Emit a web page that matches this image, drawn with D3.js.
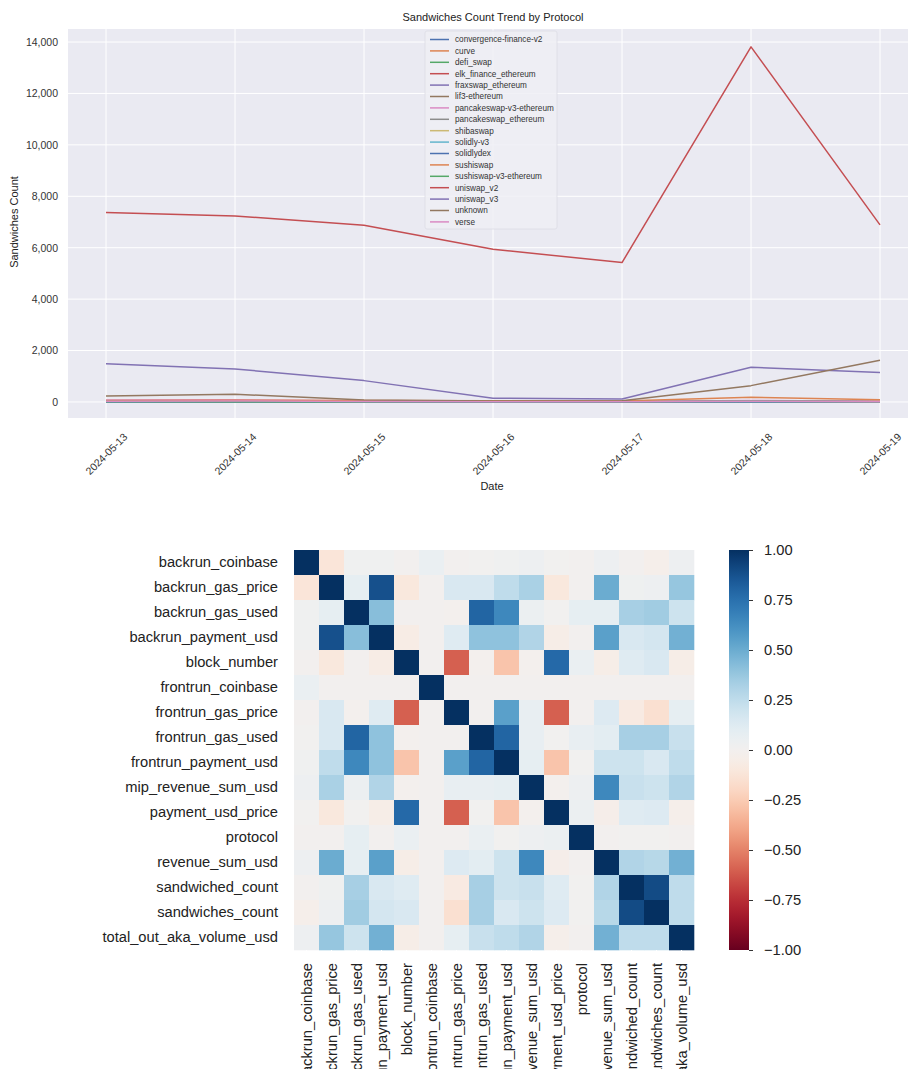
<!DOCTYPE html>
<html>
<head>
<meta charset="utf-8">
<script src="https://cdn.jsdelivr.net/npm/d3@7/dist/d3.min.js"></script>
<style>
body{margin:0;background:#fff;}
svg{display:block;font-family:"Liberation Sans",Arial,sans-serif;}
</style>
</head>
<body>
<svg id="chart" width="910" height="1069"></svg>
<script>
// ---------- Line chart data ----------
const dates = ["2024-05-13","2024-05-14","2024-05-15","2024-05-16","2024-05-17","2024-05-18","2024-05-19"];
const protocols = ["convergence-finance-v2","curve","defi_swap","elk_finance_ethereum","fraxswap_ethereum","lif3-ethereum","pancakeswap-v3-ethereum","pancakeswap_ethereum","shibaswap","solidly-v3","solidlydex","sushiswap","sushiswap-v3-ethereum","uniswap_v2","uniswap_v3","unknown","verse"];
const protocolColors = ["#4c72b0","#dd8452","#55a868","#c44e52","#8172b3","#937860","#da8bc3","#8c8c8c","#ccb974","#64b5cd","#4c72b0","#dd8452","#55a868","#c44e52","#8172b3","#937860","#da8bc3"];
const sandwichCounts = [
  [5, 4, 3, 2, 2, 6, 3],
  [12, 10, 8, 6, 5, 20, 10],
  [3, 2, 2, 1, 1, 4, 2],
  [40, 45, 20, 10, 10, 30, 15],
  [6, 5, 4, 3, 3, 8, 4],
  [4, 3, 2, 2, 2, 5, 3],
  [80, 85, 35, 20, 20, 60, 30],
  [20, 25, 15, 10, 10, 35, 20],
  [8, 6, 5, 4, 4, 10, 6],
  [10, 8, 5, 3, 3, 12, 6],
  [6, 5, 4, 3, 3, 8, 4],
  [60, 70, 60, 50, 40, 180, 90],
  [15, 12, 10, 8, 6, 25, 12],
  [7366, 7237, 6875, 5942, 5420, 13813, 6890],
  [1490, 1284, 830, 143, 117, 1350, 1144],
  [233, 300, 78, 40, 50, 635, 1622],
  [30, 35, 20, 10, 10, 25, 12]
];
const yTicks = [0, 2000, 4000, 6000, 8000, 10000, 12000, 14000];

// ---------- Heatmap data ----------
const corrLabels = ["backrun_coinbase","backrun_gas_price","backrun_gas_used","backrun_payment_usd","block_number","frontrun_coinbase","frontrun_gas_price","frontrun_gas_used","frontrun_payment_usd","mip_revenue_sum_usd","payment_usd_price","protocol","revenue_sum_usd","sandwiched_count","sandwiches_count","total_out_aka_volume_usd"];
const corrMatrix = [
  [1.00,-0.12,0.02,0.02,0.00,0.06,0.00,0.01,0.02,0.04,0.01,0.00,0.04,0.00,-0.03,0.04],
  [-0.12,1.00,0.08,0.88,-0.10,0.00,0.15,0.15,0.25,0.32,-0.10,0.00,0.50,0.03,0.04,0.38],
  [0.02,0.08,1.00,0.42,0.00,0.00,-0.01,0.80,0.65,0.05,0.01,0.08,0.08,0.33,0.35,0.20],
  [0.02,0.88,0.42,1.00,-0.06,0.00,0.12,0.40,0.40,0.30,-0.05,0.00,0.55,0.15,0.17,0.48],
  [0.00,-0.10,0.00,-0.06,1.00,0.00,-0.60,-0.01,-0.28,-0.01,0.78,0.06,-0.05,0.12,0.15,-0.05],
  [0.06,0.00,0.00,0.00,0.00,1.00,0.00,0.00,0.00,0.00,0.00,0.00,0.00,0.00,0.00,0.00],
  [0.00,0.15,-0.01,0.12,-0.60,0.00,1.00,0.00,0.55,0.07,-0.60,0.00,0.13,-0.08,-0.15,0.08],
  [0.01,0.15,0.80,0.40,-0.01,0.00,0.00,1.00,0.80,0.07,0.01,0.07,0.10,0.33,0.33,0.22],
  [0.02,0.25,0.65,0.40,-0.28,0.00,0.55,0.80,1.00,0.08,-0.28,0.01,0.20,0.20,0.15,0.25],
  [0.04,0.32,0.05,0.30,-0.01,0.00,0.07,0.07,0.08,1.00,-0.01,0.04,0.65,0.22,0.20,0.30],
  [0.01,-0.10,0.01,-0.05,0.78,0.00,-0.60,0.01,-0.28,-0.01,1.00,0.05,-0.04,0.12,0.13,-0.03],
  [0.00,0.00,0.08,0.00,0.06,0.00,0.00,0.06,0.01,0.04,0.05,1.00,0.00,0.01,0.01,0.00],
  [0.04,0.50,0.08,0.55,-0.05,0.00,0.13,0.10,0.20,0.65,-0.04,0.00,1.00,0.30,0.28,0.48],
  [0.00,0.03,0.33,0.15,0.12,0.00,-0.08,0.33,0.20,0.22,0.12,0.01,0.30,1.00,0.90,0.25],
  [-0.03,0.04,0.35,0.17,0.15,0.00,-0.15,0.33,0.15,0.20,0.13,0.01,0.28,0.90,1.00,0.25],
  [0.04,0.38,0.20,0.48,-0.05,0.00,0.08,0.22,0.25,0.30,-0.03,0.00,0.48,0.25,0.25,1.00]
];
const colorbarTicks = [1, 0.75, 0.5, 0.25, 0, -0.25, -0.5, -0.75, -1];

const svg = d3.select("#chart");
const FONT = "Liberation Sans, Arial, sans-serif";

// ================= LINE CHART =================
const plot = {left: 68, right: 908, top: 29, bottom: 418};
const x = d3.scalePoint().domain(dates).range([106, 880]);
const y = d3.scaleLinear().domain([-624, 14507]).range([plot.bottom, plot.top]);

const topG = svg.append("g");
topG.append("rect").attr("x", plot.left).attr("y", plot.top)
  .attr("width", plot.right - plot.left).attr("height", plot.bottom - plot.top)
  .attr("fill", "#eaeaf2");

// gridlines
topG.append("g").selectAll("line").data(yTicks).join("line")
  .attr("x1", plot.left).attr("x2", plot.right)
  .attr("y1", d => y(d)).attr("y2", d => y(d))
  .attr("stroke", "#fff").attr("stroke-width", 1);
topG.append("g").selectAll("line").data(dates).join("line")
  .attr("x1", d => x(d)).attr("x2", d => x(d))
  .attr("y1", plot.top).attr("y2", plot.bottom)
  .attr("stroke", "#fff").attr("stroke-width", 1);

// y axis labels
const yAxis = d3.axisLeft(y).tickValues(yTicks).tickSize(0).tickPadding(10).tickFormat(d3.format(","));
const gy = topG.append("g").attr("transform", `translate(${plot.left},0)`).call(yAxis);
gy.select(".domain").remove();
gy.selectAll("text").attr("font-size", 10.5).attr("fill", "#333").attr("font-family", FONT);

// x axis labels (rotated 45°, centred on tick)
const xAxis = d3.axisBottom(x).tickSize(0).tickPadding(0);
const gx = topG.append("g").attr("transform", `translate(0,${plot.bottom})`).call(xAxis);
gx.select(".domain").remove();
gx.selectAll("text")
  .attr("font-size", 10.5).attr("fill", "#333").attr("font-family", FONT)
  .attr("text-anchor", "middle").attr("y", 0).attr("dy", "0.35em")
  .attr("transform", "translate(0,36) rotate(-45)");

// lines
const line = d3.line().x((d, i) => x(dates[i])).y(d => y(d));
topG.append("g").selectAll("path").data(sandwichCounts).join("path")
  .attr("d", line).attr("fill", "none")
  .attr("stroke", (d, i) => protocolColors[i]).attr("stroke-width", 1.5)
  .attr("stroke-linejoin", "round");

// title & axis titles
topG.append("text").attr("x", 493).attr("y", 21).attr("text-anchor", "middle")
  .attr("font-size", 11).attr("fill", "#222").text("Sandwiches Count Trend by Protocol");
topG.append("text").attr("x", 492).attr("y", 490).attr("text-anchor", "middle")
  .attr("font-size", 11).attr("fill", "#222").text("Date");
topG.append("text").attr("transform", "translate(18,222) rotate(-90)").attr("text-anchor", "middle")
  .attr("font-size", 11).attr("fill", "#222").text("Sandwiches Count");

// legend
const lg = topG.append("g").attr("transform", "translate(425,31)");
lg.append("rect").attr("x", 0).attr("y", 0).attr("width", 132).attr("height", 198)
  .attr("rx", 2).attr("fill", "#eeeef4").attr("fill-opacity", 0.85)
  .attr("stroke", "#dcdce4").attr("stroke-width", 0.8);
const le = lg.selectAll("g.item").data(protocols).join("g").attr("class", "item")
  .attr("transform", (d, i) => `translate(0,${8.5 + i * 11.4})`);
le.append("line").attr("x1", 5).attr("x2", 24).attr("y1", 0).attr("y2", 0)
  .attr("stroke", (d, i) => protocolColors[i]).attr("stroke-width", 1.5);
le.append("text").attr("x", 30).attr("y", 0).attr("dy", "0.35em")
  .attr("font-size", 8.2).attr("fill", "#333").attr("font-family", FONT).text(d => d);

// ================= HEATMAP =================
const hx = d3.scaleBand().domain(corrLabels).range([294, 694]);
const hy = d3.scaleBand().domain(corrLabels).range([550, 950]);
// RdBu_r: -1 -> dark red, +1 -> dark blue
const color = v => d3.interpolateRdBu((1 + v) / 2);

const cells = [];
corrMatrix.forEach((row, i) => row.forEach((v, j) => cells.push({r: corrLabels[i], c: corrLabels[j], v})));
const hm = svg.append("g");
hm.selectAll("rect").data(cells).join("rect")
  .attr("x", d => hx(d.c)).attr("y", d => hy(d.r))
  .attr("width", hx.bandwidth() + 0.3).attr("height", hy.bandwidth() + 0.3)
  .attr("fill", d => color(d.v));

const hyAxis = d3.axisLeft(hy).tickSize(5).tickPadding(11);
const ghy = hm.append("g").attr("transform", "translate(294,0)").call(hyAxis);
ghy.select(".domain").remove();
ghy.selectAll("line").attr("stroke", "#fff");
ghy.selectAll("text").attr("font-size", 14.7).attr("fill", "#222").attr("font-family", FONT);

const hxAxis = d3.axisBottom(hx).tickSize(5).tickPadding(0);
const ghx = hm.append("g").attr("transform", "translate(0,950)").call(hxAxis);
ghx.select(".domain").remove();
ghx.selectAll("line").attr("stroke", "#fff");
ghx.selectAll("text").attr("font-size", 14.7).attr("fill", "#222").attr("font-family", FONT)
  .attr("text-anchor", "end").attr("y", 0).attr("dy", "0.35em")
  .attr("transform", "translate(0,13) rotate(-90)");

// colorbar
const cb = d3.scaleLinear().domain([-1, 1]).range([950, 550]);
const defs = svg.append("defs");
const grad = defs.append("linearGradient").attr("id", "cbgrad")
  .attr("x1", 0).attr("y1", 1).attr("x2", 0).attr("y2", 0);
d3.range(0, 1.0001, 0.025).forEach(t => {
  grad.append("stop").attr("offset", t).attr("stop-color", color(-1 + 2 * t));
});
svg.append("rect").attr("x", 729).attr("y", 550).attr("width", 20).attr("height", 400)
  .attr("fill", "url(#cbgrad)");
const cbAxis = d3.axisRight(cb).tickValues(colorbarTicks).tickSize(4).tickPadding(11)
  .tickFormat(d => d3.format(".2f")(d).replace("-", "\u2212"));
const gcb = svg.append("g").attr("transform", "translate(749,0)").call(cbAxis);
gcb.select(".domain").remove();
gcb.selectAll("line").attr("stroke", "#333");
gcb.selectAll("text").attr("font-size", 14.7).attr("fill", "#222").attr("font-family", FONT);
</script>
</body>
</html>
